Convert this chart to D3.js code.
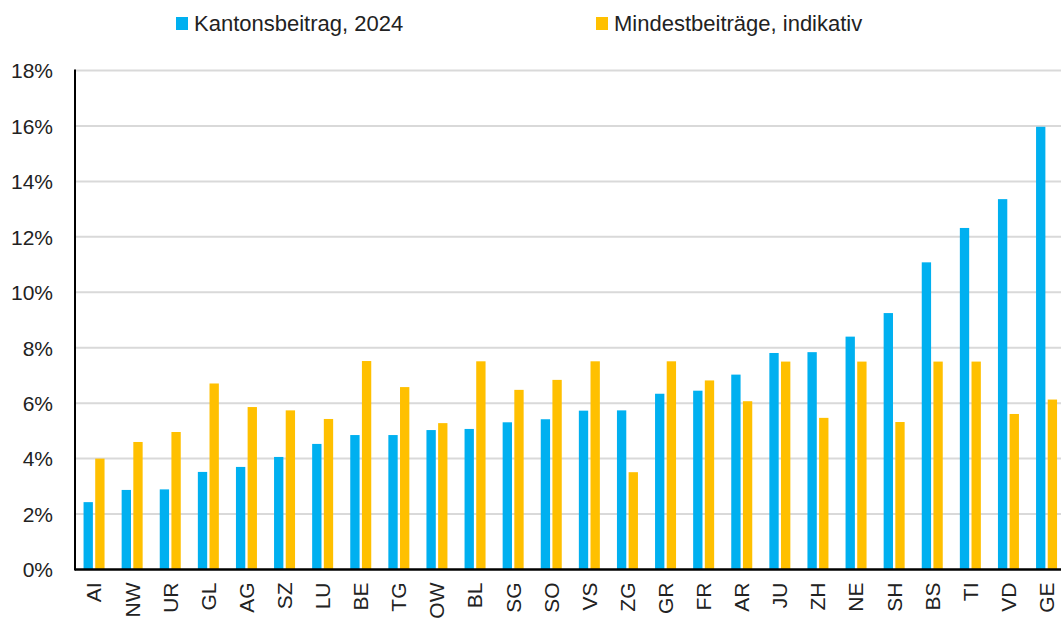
<!DOCTYPE html>
<html><head><meta charset="utf-8">
<script src="https://cdn.jsdelivr.net/npm/d3@7"></script>
<style>body{margin:0;background:#fff}svg{display:block}text{font-family:"Liberation Sans",Arial,sans-serif;fill:#222}</style>
</head><body>
<svg id="c" width="1061" height="619"></svg>
<script>
const categories = ["AI","NW","UR","GL","AG","SZ","LU","BE","TG","OW","BL","SG","SO","VS","ZG","GR","FR","AR","JU","ZH","NE","SH","BS","TI","VD","GE"];
const kantonsbeitrag = [2.43,2.87,2.89,3.52,3.70,4.06,4.53,4.85,4.85,5.03,5.07,5.31,5.42,5.73,5.74,6.34,6.45,7.03,7.81,7.84,8.40,9.25,11.08,12.32,13.36,15.97];
const mindestbeitraege = [4.00,4.60,4.96,6.71,5.86,5.74,5.43,7.52,6.58,5.28,7.51,6.48,6.84,7.51,3.51,7.51,6.82,6.07,7.50,5.47,7.50,5.32,7.50,7.50,5.61,6.13];
const seriesNames = ["Kantonsbeitrag, 2024","Mindestbeiträge, indikativ"];
const yTicks = [0,2,4,6,8,10,12,14,16,18];
const colors = ["#00B0F0","#FFC000"];

(function(){
const svg = d3.select("#c");
const left = 75, topY = 70.5, bottom = 569.5, bandW = 38.1;
const x = d3.scaleBand().domain(categories).range([left, left + bandW*categories.length]).paddingInner(0).paddingOuter(0);
const y = d3.scaleLinear().domain([0,18]).range([bottom, topY]);
const x1 = d3.scaleBand().domain([0,1]).range([0, 21]).paddingInner(0.2);
const groupOffset = (bandW - 21)/2;

svg.append("g").selectAll("line").data(yTicks.slice(1)).join("line")
  .attr("x1", left).attr("x2", 1061)
  .attr("y1", d=>y(d)).attr("y2", d=>y(d))
  .attr("stroke","#d9d9d9").attr("stroke-width",2);

const yAxis = d3.axisLeft(y).tickValues(yTicks).tickFormat(d=>d+"%").tickSize(0).tickPadding(22);
const ya = svg.append("g").attr("transform",`translate(${left},0)`).call(yAxis);
ya.select(".domain").remove();
ya.selectAll("text").attr("font-size",21).attr("fill","#222").attr("font-family","Liberation Sans, Arial, sans-serif").attr("dy","0.35em");

const data = categories.map((c,i)=>({c, v:[kantonsbeitrag[i], mindestbeitraege[i]]}));
const g = svg.append("g").selectAll("g").data(data).join("g")
  .attr("transform", d=>`translate(${x(d.c)+groupOffset},0)`);
g.selectAll("rect").data(d=>d.v.map((v,k)=>({v,k}))).join("rect")
  .attr("x", d=>x1(d.k)).attr("width", x1.bandwidth())
  .attr("y", d=>y(d.v)).attr("height", d=>y(0)-y(d.v))
  .attr("fill", d=>colors[d.k]);

svg.append("line").attr("x1",left).attr("x2",left).attr("y1",topY-1).attr("y2",bottom+1).attr("stroke","#000").attr("stroke-width",2);
const xAxis = d3.axisBottom(x).tickSize(0).tickPadding(0);
const xa = svg.append("g").attr("transform",`translate(0,${bottom})`).call(xAxis);
xa.select(".domain").attr("stroke","#000").attr("stroke-width",2.5).attr("d",`M${left},0H1061`);
xa.selectAll("text").attr("font-size",21).attr("fill","#222").attr("font-family","Liberation Sans, Arial, sans-serif")
  .attr("text-anchor","end").attr("transform","translate(0,13) rotate(-90)").attr("x",0).attr("y",0).attr("dy","0.35em");

const legX = [176, 596];
const lg = svg.append("g").selectAll("g").data(seriesNames).join("g")
  .attr("transform",(d,i)=>`translate(${legX[i]},0)`);
lg.append("rect").attr("x",0).attr("y",17).attr("width",12).attr("height",13).attr("fill",(d,i)=>colors[i]);
lg.append("text").attr("x",18).attr("y",31).attr("font-size",22).text(d=>d);
})();
</script>
</body></html>
